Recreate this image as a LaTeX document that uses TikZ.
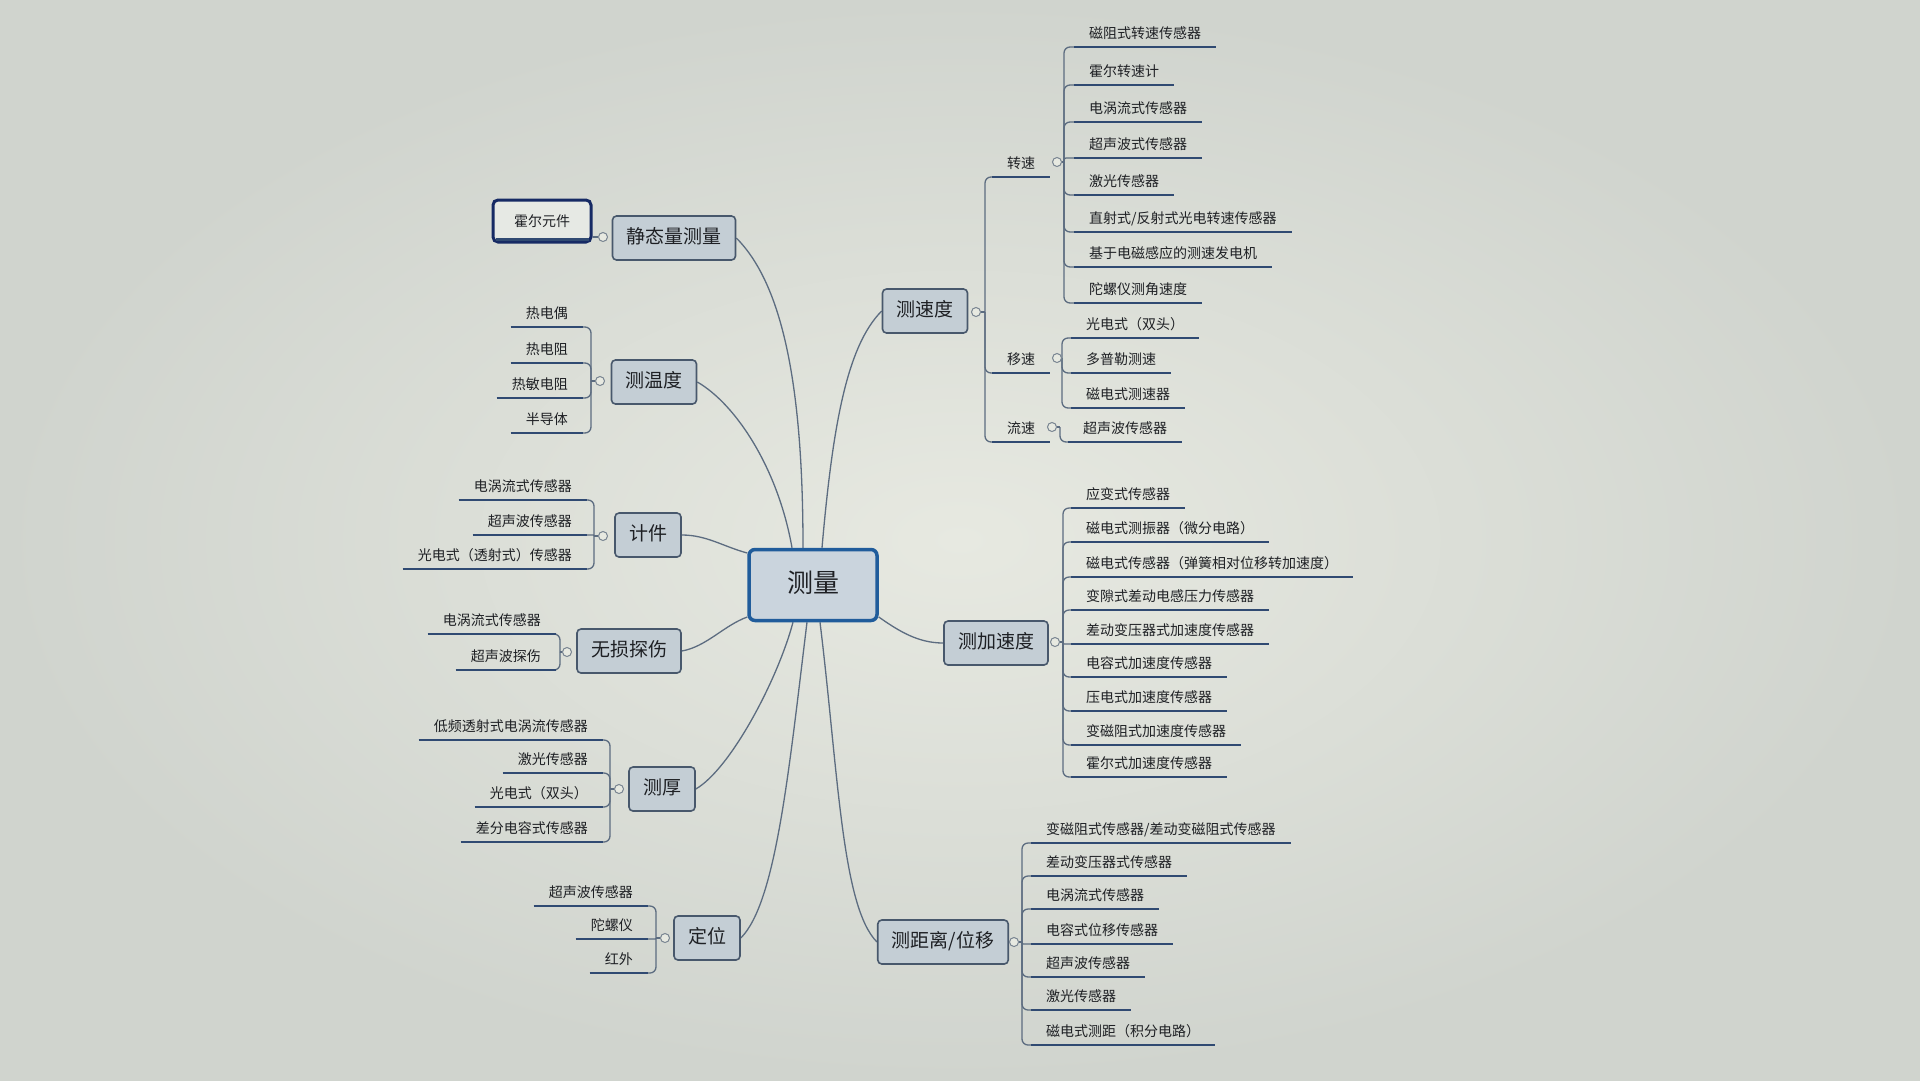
\documentclass[tikz,border=0pt]{standalone}
\usepackage{fontspec}
\setmainfont{Noto Sans CJK SC}
\pgfdeclarelayer{back}
\pgfdeclarelayer{links}
\pgfsetlayers{back,links,main}
\definecolor{bgin}{RGB}{231,233,225}
\definecolor{bgout}{RGB}{208,212,206}
\definecolor{txt}{RGB}{30,32,36}
\definecolor{ul}{RGB}{48,74,114}
\definecolor{lk}{RGB}{92,108,128}
\definecolor{tfill}{RGB}{196,206,213}
\definecolor{tdraw}{RGB}{72,88,108}
\definecolor{cfill}{RGB}{202,212,221}
\definecolor{cdraw}{RGB}{32,92,155}
\definecolor{hdraw}{RGB}{22,42,100}
\definecolor{hfill}{RGB}{230,233,228}
\definecolor{jcol}{RGB}{120,132,145}
\tikzset{
  uline/.style={draw=ul, line width=2.8pt},
  leafbase/.style={inner xsep=15pt, inner ysep=6pt, text height=12pt, text depth=2pt,
    font=\fontsize{14}{16}\selectfont, text=txt},
  leafR/.style={leafbase, anchor=south west,
    append after command={(\tikzlastnode.south west) edge[uline] (\tikzlastnode.south east)}},
  leafL/.style={leafbase, anchor=south east,
    append after command={(\tikzlastnode.south west) edge[uline] (\tikzlastnode.south east)}},
  topic/.style={draw=tdraw, fill=tfill, line width=1.6pt, rounded corners=4pt,
    inner xsep=14pt, minimum height=44pt, text height=15pt, text depth=4pt,
    font=\fontsize{19}{22}\selectfont, text=txt},
  central/.style={draw=cdraw, fill=cfill, line width=3.5pt, rounded corners=6pt,
    minimum width=128pt, minimum height=71pt, text height=20pt, text depth=5pt,
    font=\fontsize{26}{30}\selectfont, text=txt},
  jc/.style={circle, draw=jcol, fill=bgin, line width=1pt, minimum size=9pt, inner sep=0pt},
  link/.style={draw=lk, line width=1.3pt},
}
\newcommand\mmbranchR[4]{%
  \foreach \y/\t [count=\i] in {#4}{%
    \pgfmathsetmacro\rr{min(6,abs(\y-#2)/2)}%
    \node[leafR] (#1\i) at (#3,-\y) {\t};
    \begin{pgfonlayer}{links}
      \draw[link, rounded corners=\rr pt] (#1) |- (#1\i.south west);
    \end{pgfonlayer}
  }}
\newcommand\mmbranchL[4]{%
  \foreach \y/\t [count=\i] in {#4}{%
    \pgfmathsetmacro\rr{min(6,abs(\y-#2)/2)}%
    \node[leafL] (#1\i) at (#3,-\y) {\t};
    \begin{pgfonlayer}{links}
      \draw[link, rounded corners=\rr pt] (#1) |- (#1\i.south east);
    \end{pgfonlayer}
  }}
\begin{document}
\begin{tikzpicture}[x=1pt,y=1pt]
\useasboundingbox (0,0) rectangle (1920,-1080);
\begin{pgfonlayer}{back}
  \shade[inner color=bgin, outer color=bgout] (0,0) rectangle (1920,-1080);
\end{pgfonlayer}

% central and main topics
\node[central] (c) at (813,-585) {测量};
\node[topic] (sq) at (674,-238) {静态量测量};
\node[topic] (wd) at (654,-382) {测温度};
\node[topic] (jj) at (648,-535) {计件};
\node[topic] (ws) at (629,-651) {无损探伤};
\node[topic] (ch) at (662,-789) {测厚};
\node[topic] (dw) at (707,-938) {定位};
\node[topic] (sd) at (925,-311) {测速度};
\node[topic] (js) at (996,-643) {测加速度};
\node[topic] (jl) at (943,-942) {测距离/位移};

% main links
\begin{pgfonlayer}{links}
  \draw[link] ([xshift=-10pt]c.north) to[out=90,in=-45,out distance=150pt,in distance=70pt] (sq.east);
  \draw[link] ([xshift=-21pt]c.north) to[out=100,in=-30,out distance=80pt,in distance=45pt] (wd.east);
  \draw[link] ([yshift=32pt]c.west) to[out=165,in=0,out distance=25pt,in distance=25pt] (jj.east);
  \draw[link] ([yshift=-32pt]c.west) to[out=200,in=10,out distance=25pt,in distance=25pt] (ws.east);
  \draw[link] ([xshift=-20pt]c.south) to[out=-105,in=30,out distance=60pt,in distance=40pt] (ch.east);
  \draw[link] ([xshift=-6pt]c.south) to[out=-97,in=45,out distance=150pt,in distance=50pt] (dw.east);
  \draw[link] ([xshift=9pt]c.north) to[out=85,in=225,out distance=120pt,in distance=50pt] (sd.west);
  \draw[link] ([yshift=-32pt]c.east) to[out=-35,in=180,out distance=25pt,in distance=25pt] (js.west);
  \draw[link] ([xshift=7pt]c.south) to[out=-83,in=135,out distance=150pt,in distance=50pt] (jl.west);
\end{pgfonlayer}

% junction circles
\node[jc] (sqc) at (603,-237) {};
\node[jc] (wdc) at (600,-381) {};
\node[jc] (jjc) at (603,-536) {};
\node[jc] (wsc) at (567,-652) {};
\node[jc] (chc) at (619,-789) {};
\node[jc] (dwc) at (665,-938) {};
\node[jc] (sdc) at (976,-312) {};
\node[jc] (jsc) at (1055,-642) {};
\node[jc] (jlc) at (1014,-942) {};
\node[jc] (zsc) at (1057,-162) {};
\node[jc] (ysc) at (1057,-358) {};
\node[jc] (lsc) at (1052,-427) {};

% trunk points
\coordinate (sdt) at (985,-312);
\coordinate (zst) at (1064,-162);
\coordinate (yst) at (1062,-358);
\coordinate (lst) at (1060,-427);
\coordinate (jst) at (1063,-642);
\coordinate (jlt) at (1022,-942);
\coordinate (wdt) at (591,-381);
\coordinate (jjt) at (594,-536);
\coordinate (wst) at (560,-652);
\coordinate (cht) at (610,-789);
\coordinate (dwt) at (656,-938);

\begin{pgfonlayer}{links}
  \draw[link] (sdc.east) -- (sdt);
  \draw[link] (zsc.east) -- (zst);
  \draw[link] (ysc.east) -- (yst);
  \draw[link] (lsc.east) -- (lst);
  \draw[link] (jsc.east) -- (jst);
  \draw[link] (jlc.east) -- (jlt);
  \draw[link] (wdc.west) -- (wdt);
  \draw[link] (jjc.west) -- (jjt);
  \draw[link] (wsc.west) -- (wst);
  \draw[link] (chc.west) -- (cht);
  \draw[link] (dwc.west) -- (dwt);
\end{pgfonlayer}

% static measurement
\node[draw=hdraw, fill=hfill, line width=3pt, rounded corners=5pt, minimum width=98pt,
  minimum height=42pt, text height=12pt, text depth=2pt, font=\fontsize{14}{16}\selectfont, text=txt]
  (hr) at (542,-221) {霍尔元件};
\draw[uline] ([shift={(4pt,4pt)}]hr.south west) -- ([shift={(-4pt,4pt)}]hr.south east);
\begin{pgfonlayer}{links}
  \draw[link] (sqc.west) -- (sqc.west -| hr.east);
\end{pgfonlayer}

% speed sub groups
\node[leafR] (zs) at (992,-177) {转速};
\node[leafR] (ys) at (992,-373) {移速};
\node[leafR] (ls) at (992,-442) {流速};
\begin{pgfonlayer}{links}
  \draw[link, rounded corners=6pt] (sdt) |- (zs.south west);
  \draw[link, rounded corners=6pt] (sdt) |- (ys.south west);
  \draw[link, rounded corners=6pt] (sdt) |- (ls.south west);
\end{pgfonlayer}

\mmbranchR{zst}{162}{1074}{47/磁阻式转速传感器,85/霍尔转速计,122/电涡流式传感器,158/超声波式传感器,195/激光传感器,232/{直射式/反射式光电转速传感器},267/基于电磁感应的测速发电机,303/陀螺仪测角速度}
\mmbranchR{yst}{358}{1071}{338/光电式（双头）,373/多普勒测速,408/磁电式测速器}
\mmbranchR{lst}{427}{1068}{442/超声波传感器}
\mmbranchR{jst}{642}{1071}{508/应变式传感器,542/磁电式测振器（微分电路）,577/磁电式传感器（弹簧相对位移转加速度）,610/变隙式差动电感压力传感器,644/差动变压器式加速度传感器,677/电容式加速度传感器,711/压电式加速度传感器,745/变磁阻式加速度传感器,777/霍尔式加速度传感器}
\mmbranchR{jlt}{942}{1031}{843/{变磁阻式传感器/差动变磁阻式传感器},876/差动变压器式传感器,909/电涡流式传感器,944/电容式位移传感器,977/超声波传感器,1010/激光传感器,1045/磁电式测距（积分电路）}

\mmbranchL{wdt}{381}{583}{327/热电偶,363/热电阻,398/热敏电阻,433/半导体}
\mmbranchL{jjt}{536}{587}{500/电涡流式传感器,535/超声波传感器,569/光电式（透射式）传感器}
\mmbranchL{wst}{652}{556}{634/电涡流式传感器,670/超声波探伤}
\mmbranchL{cht}{789}{603}{740/低频透射式电涡流传感器,773/激光传感器,807/光电式（双头）,842/差分电容式传感器}
\mmbranchL{dwt}{938}{648}{906/超声波传感器,939/陀螺仪,973/红外}
\end{tikzpicture}
\end{document}
